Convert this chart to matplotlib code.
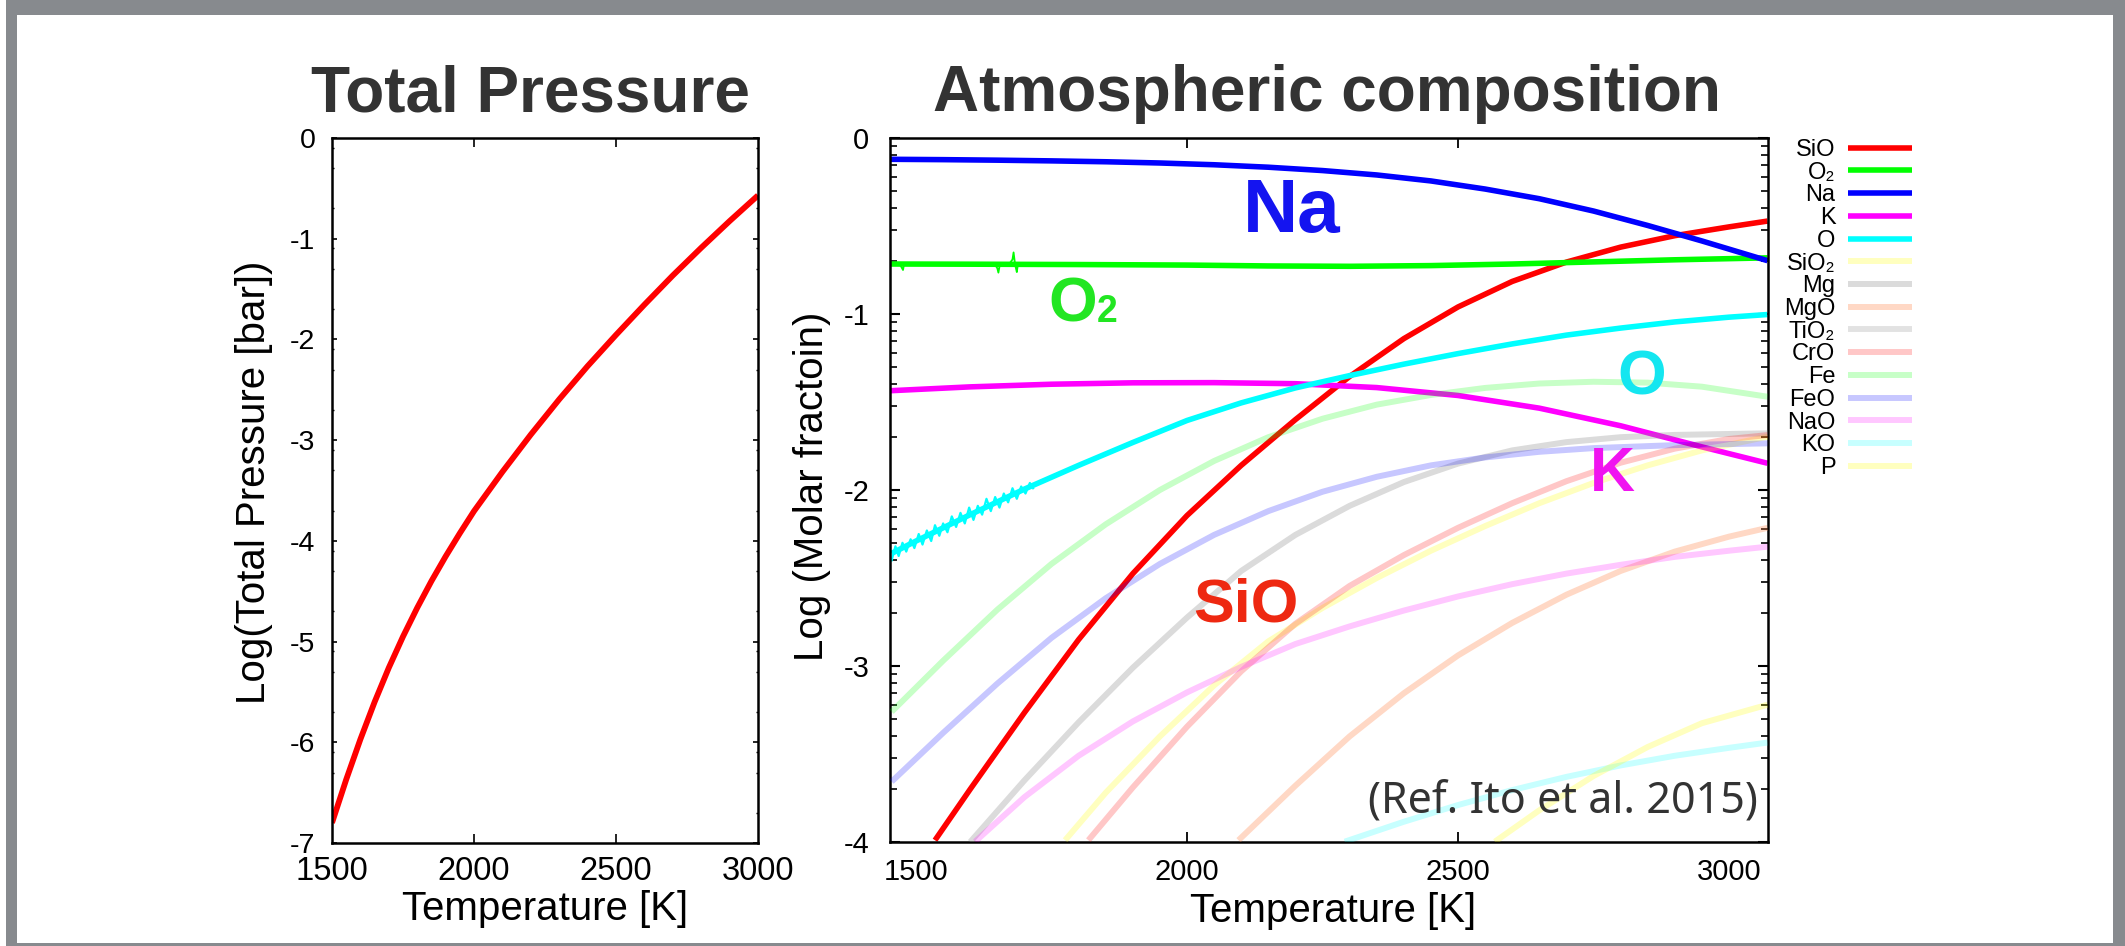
import numpy as np
import matplotlib
matplotlib.use('Agg')
import matplotlib.pyplot as plt
from matplotlib.patches import Rectangle
from matplotlib.ticker import FixedLocator

plt.rcParams['font.family'] = ['Liberation Sans', 'DejaVu Sans']
plt.rcParams['axes.unicode_minus'] = False

W, H = 2125, 946

# ---- left panel: total pressure ----
temp_total = [1500, 1550, 1600, 1650, 1700, 1750, 1800, 1850, 1900, 1950, 2000, 2100, 2200, 2300,
              2400, 2500, 2600, 2700, 2800, 2900, 3000]
log_total = [-6.80, -6.37, -5.97, -5.60, -5.26, -4.95, -4.665, -4.40, -4.155, -3.925, -3.705, -3.315,
             -2.945, -2.595, -2.265, -1.955, -1.655, -1.365, -1.09, -0.825, -0.57]

# ---- right panel: log molar fraction ----
t_sio = [1535, 1600, 1700, 1800, 1900, 2000, 2100, 2200, 2300, 2400, 2500, 2600, 2700, 2800, 2900, 3000, 3071]
v_sio = [-3.99, -3.70, -3.265, -2.85, -2.475, -2.145, -1.86, -1.60, -1.355, -1.14, -0.96, -0.815, -0.705,
         -0.620, -0.555, -0.505, -0.472]

t_o2 = [1452, 1600, 1800, 2000, 2150, 2300, 2450, 2600, 2750, 2900, 3071]
v_o2 = [-0.716, -0.717, -0.719, -0.722, -0.727, -0.729, -0.725, -0.716, -0.704, -0.692, -0.681]
# numerical noise on the O2 curve at low temperature
t_o2_noise = [1454, 1470, 1476, 1478, 1484, 1500, 1540, 1600, 1645, 1650, 1652, 1654, 1660, 1672,
              1678, 1680, 1682, 1684, 1686, 1688, 1700, 1740, 1800]
v_o2_noise = [-0.716, -0.716, -0.750, -0.716, -0.716, -0.712, -0.720, -0.716, -0.716, -0.740, -0.765, -0.730,
              -0.716, -0.716, -0.690, -0.650, -0.700, -0.735, -0.762, -0.716, -0.716, -0.718, -0.718]

t_na = [1452, 1550, 1650, 1750, 1850, 1950, 2050, 2150, 2250, 2350, 2450, 2550, 2650, 2750, 2850, 2950, 3071]
v_na = [-0.121, -0.123, -0.126, -0.130, -0.135, -0.142, -0.152, -0.166, -0.185, -0.210, -0.244, -0.290,
        -0.345, -0.415, -0.497, -0.585, -0.697]

t_k = [1452, 1600, 1750, 1900, 2050, 2200, 2350, 2500, 2650, 2800, 2950, 3071]
v_k = [-1.436, -1.414, -1.399, -1.391, -1.390, -1.396, -1.418, -1.463, -1.535, -1.635, -1.755, -1.848]

t_o = [1455, 1500, 1600, 1700, 1800, 1900, 2000, 2100, 2200, 2300, 2400, 2500, 2600, 2700, 2800, 2900, 3000, 3071]
v_o = [-2.36, -2.29, -2.14, -1.995, -1.86, -1.73, -1.605, -1.505, -1.42, -1.35, -1.285, -1.225, -1.17,
       -1.12, -1.08, -1.045, -1.018, -1.003]
# numerical noise on the O curve at low temperature
t_o_noise = [1455, 1462, 1468, 1475, 1482, 1490, 1497, 1505, 1512, 1520, 1528, 1535, 1543, 1550, 1558, 1566,
             1574, 1582, 1590, 1598, 1606, 1614, 1622, 1630, 1638, 1646, 1654, 1662, 1670, 1678, 1686, 1694,
             1702, 1710, 1716]
v_o_noise = [-2.40, -2.32, -2.375, -2.30, -2.35, -2.28, -2.33, -2.25, -2.31, -2.23, -2.29, -2.20, -2.26, -2.19,
             -2.24, -2.15, -2.21, -2.13, -2.19, -2.10, -2.17, -2.09, -2.14, -2.05, -2.12, -2.04, -2.10, -2.02,
             -2.07, -1.99, -2.05, -1.98, -2.02, -1.96, -1.99]

t_sio2 = [1775, 1850, 1950, 2050, 2150, 2250, 2350, 2450, 2550, 2650, 2750, 2850, 2950, 3071]
v_sio2 = [-3.99, -3.72, -3.40, -3.11, -2.86, -2.67, -2.50, -2.345, -2.205, -2.075, -1.96, -1.86, -1.775, -1.697]

t_mg = [1600, 1700, 1800, 1900, 2000, 2100, 2200, 2300, 2400, 2500, 2600, 2700, 2800, 2900, 3071]
v_mg = [-4.0, -3.65, -3.32, -3.01, -2.725, -2.46, -2.255, -2.09, -1.955, -1.85, -1.775, -1.728, -1.700,
        -1.687, -1.678]

t_mgo = [2095, 2200, 2300, 2400, 2500, 2600, 2700, 2800, 2900, 3000, 3071]
v_mgo = [-3.99, -3.68, -3.40, -3.155, -2.94, -2.755, -2.595, -2.46, -2.35, -2.265, -2.215]

t_tio2 = []
v_tio2 = []

t_cro = [1818, 1900, 2000, 2100, 2200, 2300, 2400, 2500, 2600, 2700, 2800, 2900, 3000, 3071]
v_cro = [-3.99, -3.69, -3.345, -3.03, -2.76, -2.545, -2.37, -2.215, -2.075, -1.95, -1.845, -1.765, -1.71, -1.688]

t_fe = [1455, 1550, 1650, 1750, 1850, 1950, 2050, 2150, 2250, 2350, 2450, 2550, 2650, 2750, 2850, 2950, 3071]
v_fe = [-3.26, -2.97, -2.68, -2.42, -2.195, -2.0, -1.835, -1.70, -1.595, -1.515, -1.46, -1.42, -1.395,
        -1.385, -1.39, -1.413, -1.47]

t_feo = [1455, 1550, 1650, 1750, 1850, 1950, 2050, 2150, 2250, 2350, 2450, 2550, 2650, 2750, 2900, 3071]
v_feo = [-3.657, -3.38, -3.10, -2.84, -2.615, -2.42, -2.255, -2.12, -2.01, -1.925, -1.86, -1.815, -1.783,
         -1.762, -1.745, -1.735]

t_nao = [1609, 1700, 1800, 1900, 2000, 2100, 2200, 2300, 2400, 2500, 2600, 2700, 2800, 2900, 3000, 3071]
v_nao = [-3.998, -3.745, -3.51, -3.315, -3.15, -3.005, -2.875, -2.775, -2.685, -2.605, -2.535, -2.475,
         -2.425, -2.38, -2.345, -2.322]

t_ko = [2291, 2400, 2500, 2600, 2700, 2800, 2900, 3000, 3071]
v_ko = [-3.998, -3.885, -3.79, -3.705, -3.63, -3.565, -3.51, -3.465, -3.435]

t_p = [2568, 2650, 2750, 2850, 2950, 3071]
v_p = [-3.998, -3.82, -3.625, -3.46, -3.325, -3.22]

main_species = [
    ('SiO', t_sio, v_sio, '#ff0000'),
    ('O₂', t_o2, v_o2, '#00ff00'),
    ('Na', t_na, v_na, '#0000ff'),
    ('K', t_k, v_k, '#ff00ff'),
    ('O', t_o, v_o, '#00ffff'),
]
minor_species = [
    ('SiO₂', t_sio2, v_sio2, '#ffff00', 0.25),
    ('Mg', t_mg, v_mg, '#888888', 0.30),
    ('MgO', t_mgo, v_mgo, '#ff7f3f', 0.30),
    ('TiO₂', t_tio2, v_tio2, '#999999', 0.28),
    ('CrO', t_cro, v_cro, '#ff0000', 0.22),
    ('Fe', t_fe, v_fe, '#00ff00', 0.22),
    ('FeO', t_feo, v_feo, '#0000ff', 0.22),
    ('NaO', t_nao, v_nao, '#ff00ff', 0.22),
    ('KO', t_ko, v_ko, '#00ffff', 0.22),
    ('P', t_p, v_p, '#ffff00', 0.25),
]

fig = plt.figure(figsize=(W / 100, H / 100), dpi=100)

# grey frame around the slide
fig.patches.append(Rectangle((6 / W, 0), 1 - 6 / W, 1, transform=fig.transFigure,
                             facecolor='#878a8e', edgecolor='none', zorder=-2))
fig.patches.append(Rectangle((17 / W, 3 / H), (2113 - 17) / W, (943 - 15) / H, transform=fig.transFigure,
                             facecolor='white', edgecolor='none', zorder=-1))

ax1 = fig.add_axes([332 / W, 1 - 843 / H, 426 / W, 705 / H])
ax2 = fig.add_axes([890 / W, 1 - 842 / H, 877.5 / W, 704 / H])

for ax in (ax1, ax2):
    for sp in ax.spines.values():
        sp.set_linewidth(1.8)

# left panel
ax1.plot(temp_total, log_total, color='#ff0000', lw=4.2, solid_capstyle='butt')
ax1.set_xlim(1500, 3000)
ax1.set_ylim(-7, 0)
ax1.set_xticks([1500, 2000, 2500, 3000])
ax1.set_yticks(range(-7, 1))
ax1.yaxis.set_minor_locator(FixedLocator([d + np.log10(k) for d in range(-7, 0) for k in (2, 5, 8)]))
ax1.tick_params(which='both', direction='in', top=True, right=True)
ax1.tick_params(axis='x', which='major', length=6.5, width=1.2, labelsize=23.5, pad=9)
ax1.tick_params(axis='y', which='major', length=3.3, width=1.2, labelsize=20.5, pad=12)
ax1.tick_params(axis='y', which='minor', length=1.5, width=1.0)
ax1.set_xlabel('Temperature [K]', fontsize=29)
ax1.set_ylabel('Log(Total Pressure [bar])', fontsize=29)
ax1.xaxis.set_label_coords(0.5, -0.067)
ax1.yaxis.set_label_coords(-0.1385, 0.512)

# right panel
for name, t, v, c in main_species:
    ax2.plot(t, v, color=c, lw=4.0, label=name, zorder=2, solid_capstyle='butt')
ax2.plot(t_o2_noise, v_o2_noise, color='#00ff00', lw=1.3, zorder=2)
ax2.plot(t_o_noise, v_o_noise, color='#00ffff', lw=1.6, zorder=2)
for name, t, v, c, a in minor_species:
    ax2.plot(t, v, color=c, alpha=a, lw=4.3, label=name, zorder=3, solid_capstyle='butt')
ax2.set_xlim(1452, 3071)
ax2.set_ylim(-4, 0)
ax2.set_xticks([1500, 2000, 2500, 3000])
ax2.set_yticks(range(-4, 1))
ax2.yaxis.set_minor_locator(FixedLocator([d + np.log10(k) for d in range(-4, 0) for k in range(2, 10)]))
ax2.tick_params(which='both', direction='in', top=True, right=True)
ax2.tick_params(axis='x', which='major', length=7.2, width=1.3, labelsize=21, pad=11.5)
ax2.tick_params(axis='y', which='major', length=7.2, width=1.5, labelsize=21, pad=15)
ax2.tick_params(axis='y', which='minor', length=5, width=1.2)
ax2.set_xlabel('Temperature [K]', fontsize=29)
ax2.set_ylabel('Log (Molar fractoin)', fontsize=29)
ax2.xaxis.set_label_coords(0.505, -0.071)
ax2.yaxis.set_label_coords(-0.0672, 0.505)

# gnuplot-style: no tick marks at the x-axis ends
for ax in (ax1, ax2):
    xt = ax.xaxis.get_major_ticks()
    for t in (xt[0], xt[-1]):
        t.tick1line.set_visible(False)
        t.tick2line.set_visible(False)

# species labels inside the plot
ax2.text(2103, -0.534, 'Na', color='#1414f0', fontsize=55, fontweight='bold', ha='left', va='baseline')
ax2.text(1744, -1.045, 'O', color='#22e622', fontsize=45, fontweight='bold', ha='left', va='baseline')
ax2.text(1834, -1.045, '2', color='#22e622', fontsize=27, fontweight='bold', ha='left', va='baseline')
ax2.text(2838, -1.455, 'O', color='#14e6f0', fontsize=45, fontweight='bold', ha='center', va='baseline')
ax2.text(2784, -2.006, 'K', color='#f014f0', fontsize=45, fontweight='bold', ha='center', va='baseline')
ax2.text(2011, -2.75, 'SiO', color='#ee2811', fontsize=44, fontweight='bold', ha='left', va='baseline')
ax2.text(3053, -3.835, '(Ref. Ito et al. 2015)', color='#333333', fontsize=31,
         family=['Noto Sans', 'DejaVu Sans'], ha='right', va='baseline')

handles, labels = ax2.get_legend_handles_labels()
ax2.legend(handles, labels, loc='upper right', bbox_to_anchor=(1912 / W, 1 - 139 / H),
           bbox_transform=fig.transFigure, frameon=False, fontsize=17, markerfirst=False,
           handlelength=2.7, handletextpad=0.55, labelspacing=0.03, borderpad=0, borderaxespad=0)

fig.text(530 / W, 1 - 111 / H, 'Total Pressure', ha='center', va='baseline',
         fontsize=46, fontweight='bold', color='#333333')
fig.text(1327 / W, 1 - 111 / H, 'Atmospheric composition', ha='center', va='baseline',
         fontsize=46, fontweight='bold', color='#333333')

fig.savefig('out.png', dpi=100)
